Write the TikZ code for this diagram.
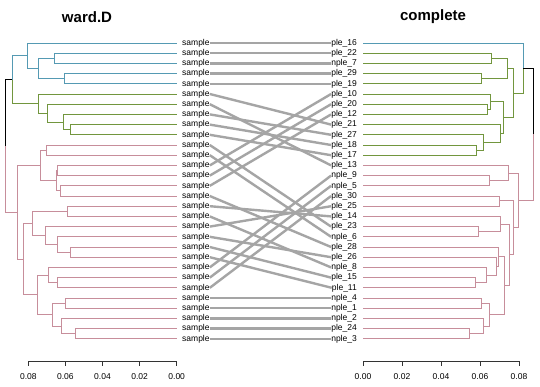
\documentclass[tikz,border=0pt]{standalone}
\usepackage{fontspec}
\setmainfont{Liberation Sans}
\definecolor{cteal}{HTML}{559AB3}
\definecolor{cgreen}{HTML}{72963E}
\definecolor{cpink}{HTML}{C78E9B}
\definecolor{cconn}{HTML}{A5A5A5}
\begin{document}
\begin{tikzpicture}[x=1pt,y=-1pt,
  bteal/.style={draw=cteal,line width=1pt},
  bgreen/.style={draw=cgreen,line width=1pt},
  bpink/.style={draw=cpink,line width=1pt},
  bblack/.style={draw=black,line width=1pt},
  lab/.style={font=\fontsize{8.5}{9}\selectfont,inner sep=0pt},
  conn/.style={draw=cconn,line width=2.4pt},
  axisline/.style={draw=black!80,line width=0.7pt},
  ttl/.style={font=\fontsize{15}{16}\selectfont\bfseries,inner sep=0pt}]
\useasboundingbox (0,0) rectangle (540,386);
\fill[white] (0,0) rectangle (540,386);
% titles
\node[ttl] (t1) at (87,17) {ward.D};
\node[ttl] (t2) at (433,17) {complete};
% leaf positions
\foreach \k in {1,...,30}{
  \coordinate (L\k) at (177,{43+(\k-1)*10.2});
  \coordinate (R\k) at (363,{43+(\k-1)*10.2});
  \node[lab,anchor=west] (la\k) at (182,{43+(\k-1)*10.2}) {sample};
}
\foreach \k/\t in {1/ple\_16,2/ple\_22,3/nple\_7,4/ple\_29,5/ple\_19,6/ple\_10,7/ple\_20,8/ple\_12,9/ple\_21,10/ple\_27,11/ple\_18,12/ple\_17,13/ple\_13,14/nple\_9,15/nple\_5,16/ple\_30,17/ple\_25,18/ple\_14,19/ple\_23,20/nple\_6,21/ple\_28,22/ple\_26,23/nple\_8,24/ple\_15,25/ple\_11,26/nple\_4,27/nple\_1,28/nple\_2,29/ple\_24,30/nple\_3}{
  \node[lab,anchor=east] (ra\k) at (357,{43+(\k-1)*10.2}) {\t};
}
% ---------- left dendrogram nodes ----------
\coordinate (T23) at (54,58.3);
\coordinate (T45) at (64,78.7);
\coordinate (T2345) at (38,68.5);
\coordinate (Tr) at (27,55.75);
\coordinate (G910) at (70,129.7);
\coordinate (G8) at (63,122.05);
\coordinate (G7) at (47,113.125);
\coordinate (Gr) at (38,103.56);
\coordinate (Top) at (12,79.66);
\coordinate (A1) at (46,150.1);
\coordinate (A2) at (57,170.5);
\coordinate (A3) at (60,190.9);
\coordinate (A23) at (56,180.7);
\coordinate (A) at (40,165.4);
\coordinate (B1) at (67,211.3);
\coordinate (B2) at (70,252.1);
\coordinate (B3) at (57,244.45);
\coordinate (B4) at (45,235.525);
\coordinate (B) at (32,223.41);
\coordinate (C1) at (57,282.7);
\coordinate (C) at (48,275.05);
\coordinate (D1) at (65,303.1);
\coordinate (D2) at (75,333.7);
\coordinate (D3) at (61,326.05);
\coordinate (D) at (52,314.575);
\coordinate (CD) at (37,294.81);
\coordinate (BCD) at (23,259.11);
\coordinate (P) at (17,212.26);
\coordinate (Root) at (5,145.96);
% left edges
\draw[bteal] (T23) |- (L2) (T23) |- (L3) (T45) |- (L4) (T45) |- (L5)
  (T2345) |- (T23) (T2345) |- (T45) (Tr) |- (L1) (Tr) |- (T2345) (Top) |- (Tr);
\draw[bgreen] (G910) |- (L9) (G910) |- (L10) (G8) |- (L8) (G8) |- (G910)
  (G7) |- (L7) (G7) |- (G8) (Gr) |- (L6) (Gr) |- (G7) (Top) |- (Gr);
\draw[bblack] (Root) |- (Top);
\draw[bpink] (Root) |- (P) (P) |- (A) (P) |- (BCD)
  (A) |- (A1) (A) |- (A23) (A1) |- (L11) (A1) |- (L12)
  (A23) |- (A2) (A23) |- (A3) (A2) |- (L13) (A2) |- (L14) (A3) |- (L15) (A3) |- (L16)
  (BCD) |- (B) (BCD) |- (CD) (B) |- (B1) (B) |- (B4) (B1) |- (L17) (B1) |- (L18)
  (B4) |- (L19) (B4) |- (B3) (B3) |- (L20) (B3) |- (B2) (B2) |- (L21) (B2) |- (L22)
  (CD) |- (C) (CD) |- (D) (C) |- (L23) (C) |- (C1) (C1) |- (L24) (C1) |- (L25)
  (D) |- (D1) (D) |- (D3) (D1) |- (L26) (D1) |- (L27) (D3) |- (L28) (D3) |- (D2)
  (D2) |- (L29) (D2) |- (L30);
% ---------- right dendrogram nodes ----------
\coordinate (rGa1) at (491,58.3);
\coordinate (rGa2) at (481,78.7);
\coordinate (rGa) at (507,68.5);
\coordinate (rG1) at (487,109.3);
\coordinate (rG2) at (490,101.65);
\coordinate (rG3) at (476,150.1);
\coordinate (rG4) at (483,142.45);
\coordinate (rG5) at (500,133.525);
\coordinate (rGb) at (503,117.59);
\coordinate (rG) at (513,93.04);
\coordinate (rTG) at (523,68.02);
\coordinate (rK1) at (489,180.7);
\coordinate (rK2) at (508,173.05);
\coordinate (rK3) at (499,200.9);
\coordinate (rK4) at (478,231.7);
\coordinate (rK5) at (500,224.05);
\coordinate (rK6) at (475,282.7);
\coordinate (rK7) at (486,275.05);
\coordinate (rK8) at (496,266.125);
\coordinate (rK9) at (498,256.5625);
\coordinate (rK10) at (481,303.1);
\coordinate (rK11) at (469,333.7);
\coordinate (rK12) at (483,326.05);
\coordinate (rK13) at (489,314.575);
\coordinate (rP) at (504,285.57);
\coordinate (rQ) at (509,254.81);
\coordinate (rR) at (513,227.855);
\coordinate (rPink) at (518,200.45);
\coordinate (rRoot) at (533,134.24);
% right edges
\draw[bteal] (rTG) |- (R1);
\draw[bgreen] (rTG) |- (rG) (rG) |- (rGa) (rG) |- (rGb)
  (rGa) |- (rGa1) (rGa) |- (rGa2) (rGa1) |- (R2) (rGa1) |- (R3) (rGa2) |- (R4) (rGa2) |- (R5)
  (rGb) |- (rG2) (rGb) |- (rG5) (rG2) |- (R6) (rG2) |- (rG1) (rG1) |- (R7) (rG1) |- (R8)
  (rG5) |- (R9) (rG5) |- (rG4) (rG4) |- (R10) (rG4) |- (rG3) (rG3) |- (R11) (rG3) |- (R12);
\draw[bblack] (rRoot) |- (rTG);
\draw[bpink] (rRoot) |- (rPink) (rPink) |- (rK2) (rPink) |- (rR)
  (rK2) |- (R13) (rK2) |- (rK1) (rK1) |- (R14) (rK1) |- (R15)
  (rR) |- (rK3) (rR) |- (rQ) (rK3) |- (R16) (rK3) |- (R17)
  (rQ) |- (rK5) (rQ) |- (rP) (rK5) |- (R18) (rK5) |- (rK4) (rK4) |- (R19) (rK4) |- (R20)
  (rP) |- (rK9) (rP) |- (rK13) (rK9) |- (R21) (rK9) |- (rK8) (rK8) |- (R22) (rK8) |- (rK7)
  (rK7) |- (R23) (rK7) |- (rK6) (rK6) |- (R24) (rK6) |- (R25)
  (rK13) |- (rK10) (rK13) |- (rK12) (rK10) |- (R26) (rK10) |- (R27)
  (rK12) |- (R28) (rK12) |- (rK11) (rK11) |- (R29) (rK11) |- (R30);
% ---------- connectors ----------
\foreach \i/\j in {1/1,2/2,3/3,4/4,5/5,6/9,7/13,8/10,9/11,10/12,11/19,12/20,13/6,14/7,15/8,16/21,17/18,18/23,19/17,20/22,21/24,22/25,23/14,24/15,25/16,26/26,27/27,28/28,29/29,30/30}{
  \draw[conn] (la\i.east) -- (ra\j.west);
}
% ---------- axes ----------
\draw[axisline] (28.3,361) -- (176.7,361);
\draw[axisline] (363,361) -- (519,361);
\foreach \x/\t [count=\n] in {176.7/0.00,139.6/0.02,102.5/0.04,65.4/0.06,28.3/0.08}{
  \draw[axisline] (\x,361) -- (\x,366);
  \node[lab] (xl\n) at (\x,377) {\t};
}
\foreach \x/\t [count=\n] in {363/0.00,402/0.02,441/0.04,480/0.06,519/0.08}{
  \draw[axisline] (\x,361) -- (\x,366);
  \node[lab] (xr\n) at (\x,377) {\t};
}
\end{tikzpicture}
\end{document}
